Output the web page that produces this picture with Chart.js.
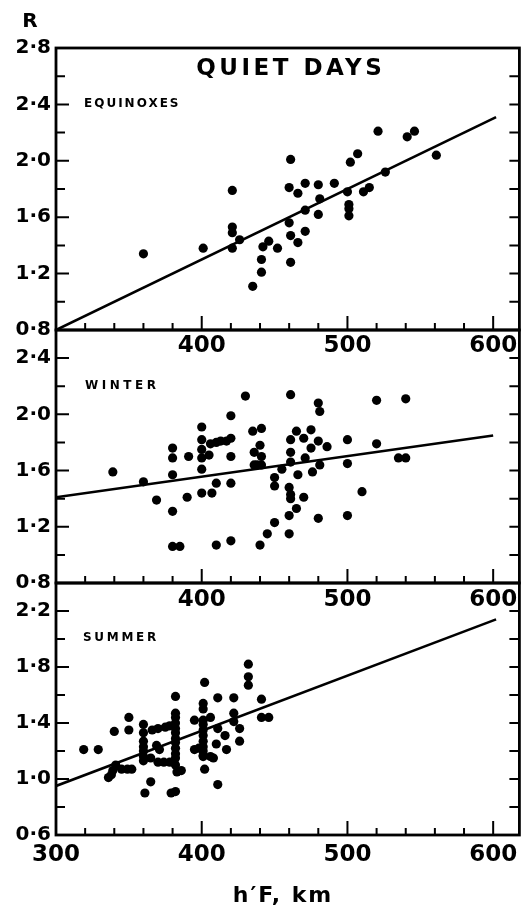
<!DOCTYPE html>
<html><head><meta charset="utf-8">
<script src="https://cdn.jsdelivr.net/npm/chart.js@4"></script>
<style>
html,body{margin:0;padding:0;background:#fff;}
#wrap{position:relative;width:524px;height:910px;background:#fff;}
canvas{position:absolute;left:0;top:0;}
</style></head><body>
<div id="wrap">
<canvas id="c1" width="524" height="910"></canvas>
<canvas id="c2" width="524" height="910"></canvas>
<canvas id="c3" width="524" height="910"></canvas>
</div>
<script>
// ---------- data ----------
const xTickValues = [300,320,340,360,380,400,420,440,460,480,500,520,540,560,580,600];
const xMajorValues = [400,500,600];
const xLabelsUpper = [400,500,600];
const xLabelsBottom = [300,400,500,600];

const eqYLabels = [0.8,1.2,1.6,2.0,2.4,2.8];
const eqYMinor = [1.0,1.4,1.8,2.2,2.6];
const wiYLabels = [0.8,1.2,1.6,2.0,2.4];
const wiYMinor = [1.0,1.4,1.8,2.2];
const suYLabels = [0.6,1.0,1.4,1.8,2.2];
const suYMinor = [0.8,1.2,1.6,2.0];

const equinoxH = [360,401,421,421,421,421,426,435,441,441,442,446,452,461,460,460,461,461,466,466,471,471,471,480,481,480,491,502,507,500,501,501,501,511,515,521,526,541,546,561];
const equinoxR = [1.34,1.38,1.79,1.53,1.49,1.38,1.44,1.11,1.21,1.30,1.39,1.43,1.38,2.01,1.81,1.56,1.47,1.28,1.77,1.42,1.84,1.65,1.50,1.83,1.73,1.62,1.84,1.99,2.05,1.78,1.69,1.66,1.61,1.78,1.81,2.21,1.92,2.17,2.21,2.04];
const equinoxFitH = [300,602];
const equinoxFitR = [0.80,2.31];

const winterH = [339,360,369,380,380,380,380,380,385,391,390,
  400,400,400,400,400,400,405,407,410,410,
  406,410,413,417,420,
  420,420,420,420,
  430,435,441,436,440,441,436,438,441,440,
  445,450,450,450,455,
  461,461,461,461,460,461,461,460,460,
  465,466,465,470,471,470,
  475,475,476,480,481,480,481,480,486,
  500,500,500,510,520,520,535,540,540];
const winterR = [1.59,1.52,1.39,1.76,1.69,1.57,1.31,1.06,1.06,1.70,1.41,
  1.91,1.82,1.75,1.69,1.61,1.44,1.71,1.44,1.07,1.51,
  1.79,1.80,1.81,1.81,1.83,
  1.99,1.70,1.51,1.10,
  2.13,1.88,1.90,1.73,1.78,1.70,1.64,1.64,1.64,1.07,
  1.15,1.23,1.55,1.49,1.61,
  2.14,1.82,1.73,1.66,1.48,1.43,1.40,1.28,1.15,
  1.88,1.57,1.33,1.83,1.69,1.41,
  1.89,1.76,1.59,2.08,2.02,1.81,1.64,1.26,1.77,
  1.82,1.65,1.28,1.45,2.10,1.79,1.69,1.69,2.11];
const winterFitH = [300,600];
const winterFitR = [1.41,1.85];

const summerH = [319,329,340,350,350,
  336,338,341,339,345,349,352,
  361,365,
  360,360,360,360,360,360,360,
  366,370,375,378,
  365,370,374,378,
  369,371,
  382,382,382,382,382,382,382,382,382,382,382,382,
  383,386,
  379,382,
  402,
  401,401,401,401,401,401,401,401,401,401,
  395,406,395,398,401,406,408,
  402,
  411,411,410,411,416,417,
  422,422,422,426,426,
  432,432,432,
  441,441,446];
const summerR = [1.21,1.21,1.34,1.44,1.35,
  1.01,1.03,1.10,1.06,1.07,1.07,1.07,
  0.90,0.98,
  1.39,1.33,1.27,1.23,1.20,1.16,1.13,
  1.35,1.36,1.37,1.38,
  1.15,1.12,1.12,1.12,
  1.24,1.21,
  1.59,1.47,1.44,1.40,1.36,1.33,1.29,1.26,1.22,1.18,1.15,1.10,
  1.05,1.06,
  0.90,0.91,
  1.69,
  1.54,1.50,1.42,1.39,1.35,1.31,1.27,1.23,1.20,1.17,
  1.42,1.44,1.21,1.22,1.16,1.16,1.15,
  1.07,
  1.58,1.36,1.25,0.96,1.31,1.21,
  1.58,1.47,1.41,1.36,1.27,
  1.82,1.73,1.67,
  1.57,1.44,1.44];
const summerFitH = [300,602];
const summerFitR = [0.95,2.14];

// ---------- helpers ----------
const FONT = "'DejaVu Sans', sans-serif";
Chart.defaults.font.family = FONT;
Chart.defaults.font.weight = 'bold';
Chart.defaults.color = '#000';

function pts(h, r) { return h.map((v, i) => ({x: v, y: r[i]})); }
function fmt(v) { return Number(v).toFixed(1).replace('.', '\u00B7'); }

function drawSpaced(ctx, text, x, y, size, spacing, align) {
  ctx.save();
  ctx.font = 'bold ' + size + 'px ' + FONT;
  ctx.fillStyle = '#000';
  ctx.textBaseline = 'middle';
  ctx.textAlign = 'left';
  try { ctx.letterSpacing = spacing + 'px'; } catch (e) {}
  const w = ctx.measureText(text).width;
  let sx = x;
  if (align === 'center') sx = x - (w - spacing) / 2;
  ctx.fillText(text, sx, y);
  ctx.restore();
}

function makePanel(id, o) {
  const framePlugin = {
    id: 'frame' + id,
    afterDatasetsDraw(chart) {
      const ctx = chart.ctx;
      const {left, right, top, bottom} = chart.chartArea;
      const xs = chart.scales.x, ys = chart.scales.y;
      ctx.save();
      ctx.strokeStyle = '#000';
      ctx.lineWidth = 2;
      ctx.beginPath();
      xTickValues.forEach(v => {
        const px = xs.getPixelForValue(v);
        const len = xMajorValues.includes(v) ? 14 : 7;
        ctx.moveTo(px, bottom); ctx.lineTo(px, bottom - len);
      });
      o.yLabels.concat(o.yMinor).forEach(v => {
        const py = ys.getPixelForValue(v);
        const len = o.yLabels.includes(v) ? 13 : 9;
        ctx.moveTo(left, py); ctx.lineTo(left + len, py);
        ctx.moveTo(right - 10, py); ctx.lineTo(right, py);
      });
      ctx.stroke();
      ctx.lineWidth = 2.8;
      ctx.strokeRect(left, top, right - left, bottom - top);
      ctx.restore();
      if (o.texts) o.texts(ctx);
    }
  };
  return new Chart(document.getElementById(id), {
    type: 'scatter',
    data: {
      datasets: [
        {data: pts(o.h, o.r), pointRadius: 4.6, pointHoverRadius: 4.6,
         backgroundColor: '#000', borderColor: '#000', borderWidth: 0},
        {type: 'line', data: pts(o.fitH, o.fitR), showLine: true, pointRadius: 0,
         borderColor: '#000', borderWidth: 2.6, fill: false, tension: 0}
      ]
    },
    options: {
      responsive: false,
      animation: false,
      events: [],
      layout: {padding: {left: 0, right: 4, top: o.top, bottom: 910 - o.bottom - 40}},
      plugins: {legend: {display: false}, tooltip: {enabled: false}, title: {display: false}},
      scales: {
        x: {
          type: 'linear', min: 300, max: 618,
          grid: {display: false, drawTicks: false}, border: {display: false},
          afterBuildTicks: s => { s.ticks = o.xLabels.map(v => ({value: v})); },
          afterFit: s => { s.height = 40; s.paddingLeft = 0; s.paddingRight = 0; },
          ticks: {autoSkip: false, maxRotation: 0, padding: o.xPad, color: '#000',
                  font: {size: 23, weight: 'bold'}, callback: v => String(v)}
        },
        y: {
          type: 'linear', min: o.ymin, max: o.ymax,
          grid: {display: false, drawTicks: false}, border: {display: false},
          afterBuildTicks: s => { s.ticks = o.yLabels.map(v => ({value: v})); },
          afterFit: s => { s.width = 56; s.paddingTop = 0; s.paddingBottom = 0; },
          ticks: {autoSkip: false, padding: 5, color: '#000',
                  font: {size: 20, weight: 'bold'}, callback: v => fmt(v)}
        }
      }
    },
    plugins: [framePlugin]
  });
}

makePanel('c1', {h: equinoxH, r: equinoxR, fitH: equinoxFitH, fitR: equinoxFitR,
  ymin: 0.8, ymax: 2.8, top: 48, bottom: 330, yLabels: eqYLabels, yMinor: eqYMinor,
  xLabels: xLabelsUpper, xPad: 2,
  texts: ctx => {
    drawSpaced(ctx, 'R', 30, 22, 20, 0, 'center');
    drawSpaced(ctx, 'QUIET DAYS', 289, 69, 23, 3.5, 'center');
    drawSpaced(ctx, 'EQUINOXES', 84, 104, 12, 2, 'left');
  }});
makePanel('c2', {h: winterH, r: winterR, fitH: winterFitH, fitR: winterFitR,
  ymin: 0.8, ymax: 2.6, top: 330, bottom: 583, yLabels: wiYLabels, yMinor: wiYMinor,
  xLabels: xLabelsUpper, xPad: 3.5,
  texts: ctx => {
    drawSpaced(ctx, 'WINTER', 85, 386, 12, 3.5, 'left');
  }});
makePanel('c3', {h: summerH, r: summerR, fitH: summerFitH, fitR: summerFitR,
  ymin: 0.6, ymax: 2.4, top: 583, bottom: 835, yLabels: suYLabels, yMinor: suYMinor,
  xLabels: xLabelsBottom, xPad: 6,
  texts: ctx => {
    drawSpaced(ctx, 'SUMMER', 83, 638, 12, 2.7, 'left');
    drawSpaced(ctx, 'h\u2032F, km', 282, 896, 22, 2, 'center');
  }});
</script>
</body></html>
